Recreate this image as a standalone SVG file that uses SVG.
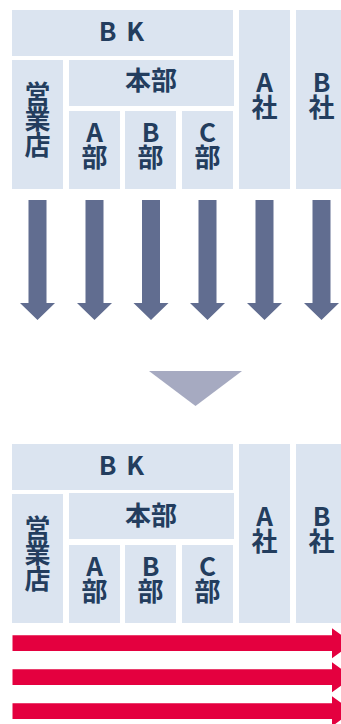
<svg xmlns="http://www.w3.org/2000/svg" width="341" height="724" viewBox="0 0 341 724">
<style>
.box{fill:#dbe4f0}
.t{font-family:"Noto Sans CJK JP","Noto Sans",sans-serif;font-weight:bold;font-size:26px;fill:#233d5e;text-anchor:middle}
.dn{fill:#616d90}
.rd{fill:#e4003f}
</style>
<rect width="341" height="724" fill="#ffffff"/>
<g id="top">
<g id="bk1"><rect class="box" x="12" y="10" width="221" height="46"/><text class="t" x="122.5" y="40.5" letter-spacing="2">B K</text></g>
<g id="eigyo1"><rect class="box" x="12" y="60" width="51" height="129"/><text class="t" x="37.5" y="103.5">営</text><text class="t" x="37.5" y="129">業</text><text class="t" x="37.5" y="154.5">店</text></g>
<g id="honbu1"><rect class="box" x="69" y="60" width="165" height="46"/><text class="t" x="151" y="90">本部</text></g>
<g id="abu1"><rect class="box" x="69" y="111" width="51" height="78"/><text class="t" x="94.5" y="141.5">A</text><text class="t" x="94.5" y="166.5">部</text></g>
<g id="bbu1"><rect class="box" x="125" y="111" width="51" height="78"/><text class="t" x="150.5" y="141.5">B</text><text class="t" x="150.5" y="166.5">部</text></g>
<g id="cbu1"><rect class="box" x="182" y="111" width="51" height="78"/><text class="t" x="207.5" y="141.5">C</text><text class="t" x="207.5" y="166.5">部</text></g>
<g id="asha1"><rect class="box" x="239" y="10" width="51" height="179"/><text class="t" x="264.5" y="91.5">A</text><text class="t" x="264.5" y="116.5">社</text></g>
<g id="bsha1"><rect class="box" x="296" y="10" width="51" height="179"/><text class="t" x="321.5" y="91.5">B</text><text class="t" x="321.5" y="116.5">社</text></g>
</g>
<g id="connectors">
<polygon class="dn" points="28.5,200 46.5,200 46.5,303 55,303 37.5,320 20,303 28.5,303"/>
<polygon class="dn" points="85.5,200 103.5,200 103.5,303 112,303 94.5,320 77,303 85.5,303"/>
<polygon class="dn" points="142,200 160,200 160,303 168.5,303 151,320 133.5,303 142,303"/>
<polygon class="dn" points="198.5,200 216.5,200 216.5,303 225,303 207.5,320 190,303 198.5,303"/>
<polygon class="dn" points="255.5,200 273.5,200 273.5,303 282,303 264.5,320 247,303 255.5,303"/>
<polygon class="dn" points="312.5,200 330.5,200 330.5,303 339,303 321.5,320 304,303 312.5,303"/>
<polygon fill="#a6aac1" points="149,371 242,371 195.5,406"/>
<polygon class="rd" points="12.5,635.3 332,635.3 332,628.3 353,643.3 332,658.3 332,651 12.5,651"/>
<polygon class="rd" points="12.5,669.3 332,669.3 332,662.3 353,677.3 332,692.3 332,685 12.5,685"/>
<polygon class="rd" points="12.5,703.3 332,703.3 332,696.3 353,711.3 332,726.3 332,719 12.5,719"/>
</g>
<g id="bottom">
<g id="bk2"><rect class="box" x="12" y="444" width="221" height="46"/><text class="t" x="122.5" y="474.5" letter-spacing="2">B K</text></g>
<g id="eigyo2"><rect class="box" x="12" y="494" width="51" height="129"/><text class="t" x="37.5" y="537.5">営</text><text class="t" x="37.5" y="563">業</text><text class="t" x="37.5" y="588.5">店</text></g>
<g id="honbu2"><rect class="box" x="69" y="493" width="165" height="46"/><text class="t" x="151" y="525">本部</text></g>
<g id="abu2"><rect class="box" x="69" y="545" width="51" height="78"/><text class="t" x="94.5" y="576">A</text><text class="t" x="94.5" y="601">部</text></g>
<g id="bbu2"><rect class="box" x="125" y="545" width="51" height="78"/><text class="t" x="150.5" y="576">B</text><text class="t" x="150.5" y="601">部</text></g>
<g id="cbu2"><rect class="box" x="182" y="545" width="51" height="78"/><text class="t" x="207.5" y="576">C</text><text class="t" x="207.5" y="601">部</text></g>
<g id="asha2"><rect class="box" x="239" y="444" width="51" height="179"/><text class="t" x="264.5" y="525.5">A</text><text class="t" x="264.5" y="550.5">社</text></g>
<g id="bsha2"><rect class="box" x="296" y="444" width="51" height="179"/><text class="t" x="321.5" y="525.5">B</text><text class="t" x="321.5" y="550.5">社</text></g>
</g>
</svg>
